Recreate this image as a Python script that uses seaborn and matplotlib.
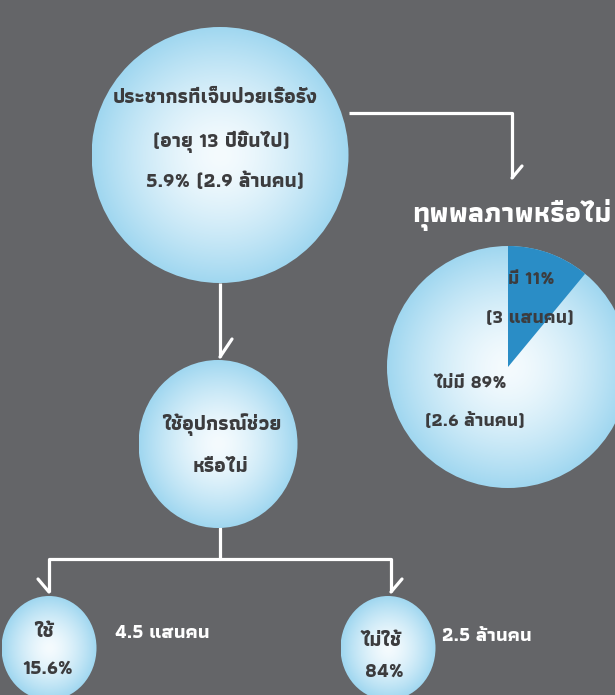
import numpy as np
import matplotlib
matplotlib.use("Agg")
import matplotlib.pyplot as plt
import matplotlib.colors as mcolors
import seaborn as sns
from matplotlib.patches import Ellipse

# chart content
pop_lines = ["ประชากรที่เจ็บป่วยเรื้อรัง", "(อายุ 13 ปีขึ้นไป)", "5.9% (2.9 ล้านคน)"]
disability_title = "ทุพพลภาพหรือไม่"
disability_share = [11, 89]
disability_labels = ["มี 11%", "(3 แสนคน)", "ไม่มี 89%", "(2.6 ล้านคน)"]
device_question = ["ใช้อุปกรณ์ช่วย", "หรือไม่"]
device_groups = ["ใช้", "ไม่ใช้"]
device_share = ["15.6%", "84%"]
device_people = ["4.5 แสนคน", "2.5 ล้านคน"]

W, H = 615, 695
BG = "#646568"
INK = "#3c3c3e"
WEDGE = "#2a8dc6"

sns.set_theme(style="white")
plt.rcParams["font.family"] = ["Athiti", "DejaVu Sans"]
plt.rcParams["font.weight"] = "bold"


def shaded_disc(ax, cx, cy, w, h, core="#f5fbfe", edge="#a0d7f0"):
    n = 240
    xs = np.linspace(-1, 1, n)
    X, Y = np.meshgrid(xs, xs)
    t = np.clip(np.sqrt(X ** 2 + Y ** 2), 0, 1) ** 1.5
    c0 = np.array(mcolors.to_rgb(core))
    c1 = np.array(mcolors.to_rgb(edge))
    img = c0 + (c1 - c0) * t[..., None]
    disc = Ellipse((cx, cy), w, h, facecolor="none", edgecolor="none")
    ax.add_patch(disc)
    im = ax.imshow(img, extent=[cx - w / 2, cx + w / 2, cy + h / 2, cy - h / 2],
                   interpolation="bilinear", zorder=2)
    im.set_clip_path(disc)


def connector(ax, xs, ys, tick):
    ax.plot(xs, ys, color="white", lw=2.3, solid_capstyle="butt", zorder=1)
    ax.plot([xs[-1], tick[0]], [ys[-1], tick[1]], color="white", lw=2.3, zorder=1)


fig = plt.figure(figsize=(W / 100, H / 100), dpi=100, facecolor=BG)
ax = fig.add_axes([0, 0, 1, 1])
ax.set_facecolor(BG)
renderer = fig.canvas.get_renderer()


def fit_size(txt, width, base=14):
    # font size at which txt spans the width it has in the reference
    t = ax.text(0, 0, txt, fontsize=base, fontweight="bold")
    w = t.get_window_extent(renderer).width
    t.remove()
    return base * width / w


def label(x, y, txt, size, color=INK, ha="center"):
    return ax.text(x, y, txt, ha=ha, va="center", fontsize=size, fontweight="bold", color=color, zorder=5)


# top circle
shaded_disc(ax, 220, 155, 257, 256)
s_top = fit_size(pop_lines[0], 206)
for txt, x, y in zip(pop_lines, [215, 221, 225], [98, 142, 182]):
    label(x, y, txt, s_top)

# links
connector(ax, [349, 512, 512], [113, 113, 178], (522, 166))
connector(ax, [220, 220], [283, 357], (232, 339))
ax.plot([220, 220], [528, 559], color="white", lw=2.3, zorder=1)
ax.plot([49, 391], [559, 559], color="white", lw=2.3, zorder=1)
connector(ax, [49, 49], [559, 592], (38, 579))
connector(ax, [391, 391], [559, 592], (402, 579))

# disability pie
shaded_disc(ax, 508, 367, 242, 242)
ax.pie(disability_share, center=(508, 367), radius=121, startangle=-90, counterclock=True,
       colors=[WEDGE, "none"], wedgeprops=dict(linewidth=0, zorder=3), frame=True)
label(412, 215, disability_title, fit_size(disability_title, 200), color="white", ha="left")
s_pie = fit_size(disability_labels[3], 100)
for txt, x, y in zip(disability_labels, [531, 530, 470, 475], [280, 318, 383, 420]):
    label(x, y, txt, s_pie)

# device circle
shaded_disc(ax, 218, 444, 159, 168)
s_mid = fit_size(device_question[0], 120)
for txt, x, y in zip(device_question, [222, 221], [425, 467]):
    label(x, y, txt, s_mid)

# bottom circles
s_small = fit_size(device_share[0], 51)
s_side = fit_size(device_people[1], 90)
for cx, grp, share, people, gx, gy, sx, sy, px, py in zip(
        [49, 388], device_groups, device_share, device_people,
        [44, 381], [632, 641], [48, 384], [669, 672], [115, 442], [633, 636]):
    shaded_disc(ax, cx, 648, 95, 104)
    label(gx, gy, grp, s_small)
    label(sx, sy, share, s_small)
    label(px, py, people, s_side, color="white", ha="left")

ax.set_xlim(0, W)
ax.set_ylim(H, 0)
ax.set_aspect("auto")
ax.axis("off")

fig.savefig("out.png", dpi=100, facecolor=BG)
